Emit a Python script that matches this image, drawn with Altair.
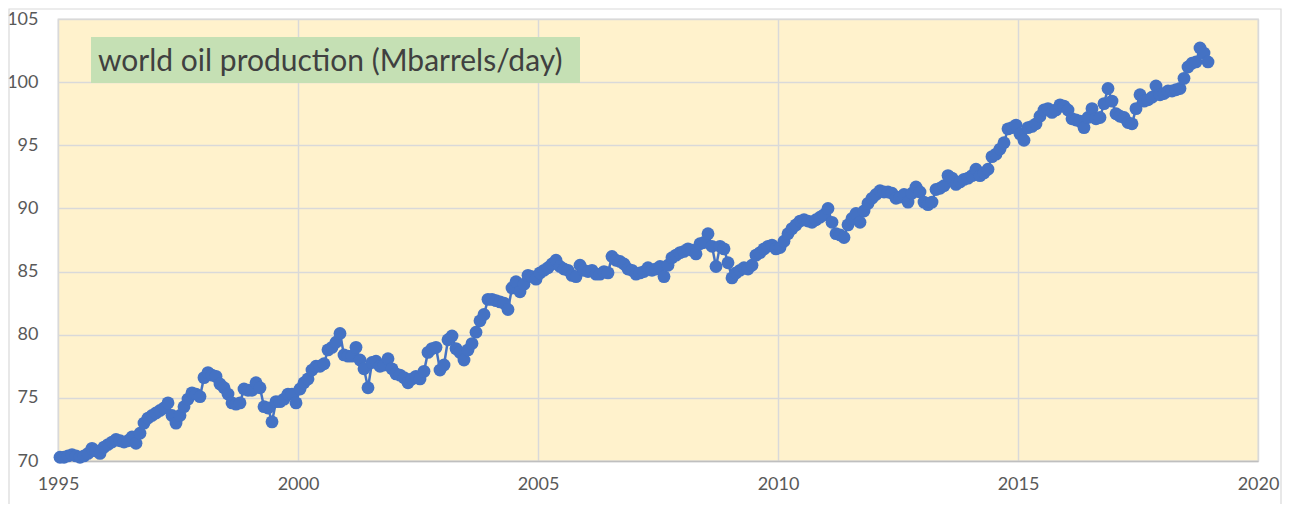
import altair as alt
import pandas as pd

# Monthly world oil production (Mbarrels/day), Jan 1995 .. Dec 2018
years = list(range(1995, 2019))
prod_1995 = [70.3, 70.3, 70.4, 70.5, 70.4, 70.3, 70.4, 70.6, 71.0, 70.8, 70.6, 71.1]
prod_1996 = [71.3, 71.5, 71.7, 71.6, 71.5, 71.6, 71.9, 71.4, 72.2, 73.0, 73.4, 73.6]
prod_1997 = [73.8, 74.0, 74.2, 74.6, 73.6, 73.0, 73.6, 74.3, 74.9, 75.4, 75.3, 75.1]
prod_1998 = [76.6, 77.0, 76.8, 76.7, 76.1, 75.8, 75.3, 74.6, 74.5, 74.6, 75.7, 75.6]
prod_1999 = [75.6, 76.2, 75.8, 74.3, 74.2, 73.1, 74.7, 74.7, 74.9, 75.3, 75.3, 74.6]
prod_2000 = [75.7, 76.2, 76.5, 77.2, 77.5, 77.5, 77.7, 78.8, 79.0, 79.4, 80.1, 78.4]
prod_2001 = [78.3, 78.3, 79.0, 78.0, 77.3, 75.8, 77.8, 77.9, 77.5, 77.6, 78.1, 77.3]
prod_2002 = [76.9, 76.8, 76.6, 76.2, 76.5, 76.7, 76.5, 77.1, 78.6, 78.9, 79.0, 77.2]
prod_2003 = [77.6, 79.6, 79.9, 78.9, 78.6, 78.0, 78.8, 79.3, 80.2, 81.1, 81.6, 82.8]
prod_2004 = [82.8, 82.7, 82.6, 82.5, 82.0, 83.7, 84.2, 83.4, 84.0, 84.7, 84.6, 84.4]
prod_2005 = [84.9, 85.1, 85.3, 85.6, 85.9, 85.4, 85.2, 85.1, 84.7, 84.6, 85.5, 85.1]
prod_2006 = [85.0, 85.1, 84.8, 84.8, 85.0, 84.9, 86.2, 85.9, 85.8, 85.6, 85.2, 85.1]
prod_2007 = [84.8, 84.9, 85.0, 85.3, 85.1, 85.2, 85.4, 84.6, 85.5, 86.1, 86.3, 86.5]
prod_2008 = [86.6, 86.8, 86.7, 86.4, 87.2, 87.3, 88.0, 87.0, 85.4, 87.0, 86.8, 85.7]
prod_2009 = [84.5, 84.9, 85.1, 85.3, 85.2, 85.5, 86.3, 86.5, 86.8, 87.0, 87.1, 86.8]
prod_2010 = [86.9, 87.4, 88.0, 88.4, 88.7, 89.0, 89.1, 89.0, 88.9, 89.1, 89.3, 89.5]
prod_2011 = [90.0, 88.9, 88.0, 87.9, 87.7, 88.7, 89.2, 89.6, 88.9, 89.8, 90.4, 90.8]
prod_2012 = [91.1, 91.4, 91.3, 91.3, 91.2, 90.8, 90.9, 91.1, 90.5, 91.2, 91.7, 91.3]
prod_2013 = [90.5, 90.3, 90.5, 91.5, 91.6, 91.8, 92.6, 92.4, 91.9, 92.1, 92.3, 92.4]
prod_2014 = [92.6, 93.1, 92.6, 92.8, 93.1, 94.1, 94.3, 94.7, 95.2, 96.3, 96.4, 96.6]
prod_2015 = [95.9, 95.4, 96.4, 96.5, 96.7, 97.3, 97.8, 97.9, 97.6, 97.8, 98.2, 98.1]
prod_2016 = [97.8, 97.1, 97.0, 96.9, 96.4, 97.2, 97.9, 97.1, 97.2, 98.3, 99.5, 98.5]
prod_2017 = [97.5, 97.3, 97.2, 96.8, 96.7, 97.9, 99.0, 98.5, 98.6, 98.8, 99.7, 99.0]
prod_2018 = [99.1, 99.3, 99.3, 99.4, 99.5, 100.3, 101.2, 101.5, 101.6, 102.7, 102.3, 101.6]

all_years = [prod_1995, prod_1996, prod_1997, prod_1998, prod_1999, prod_2000,
             prod_2001, prod_2002, prod_2003, prod_2004, prod_2005, prod_2006,
             prod_2007, prod_2008, prod_2009, prod_2010, prod_2011, prod_2012,
             prod_2013, prod_2014, prod_2015, prod_2016, prod_2017, prod_2018]

rows = []
for yr, vals in zip(years, all_years):
    for m, v in enumerate(vals):
        rows.append({"t": yr + (m + 0.5) / 12.0, "v": v})
df = pd.DataFrame(rows)

x_ticks = [1995, 2000, 2005, 2010, 2015, 2020]
y_ticks = [70, 75, 80, 85, 90, 95, 100, 105]
title_text = "world oil production (Mbarrels/day)"

FONT = "Lato"
BLUE = "#4472C4"

x_enc = alt.X("t:Q", scale=alt.Scale(domain=[1995, 2020], nice=False, zero=False),
              axis=alt.Axis(values=x_ticks, format="d", title=None, ticks=False,
                            grid=True, gridColor="#D9D9D9", gridWidth=1.5,
                            domainColor="#BFBFBF", domainWidth=1.5,
                            labelFont=FONT, labelFontSize=18, labelColor="#595959",
                            labelPadding=14, labelFlush=False))
y_enc = alt.Y("v:Q", scale=alt.Scale(domain=[70, 105], nice=False, zero=False),
              axis=alt.Axis(values=y_ticks, title=None, ticks=False,
                            grid=True, gridColor="#D9D9D9", gridWidth=1.5,
                            domain=False,
                            labelFont=FONT, labelFontSize=18, labelColor="#595959",
                            labelPadding=20))

base = alt.Chart(df)
line = base.mark_line(color=BLUE, strokeWidth=2.5).encode(x=x_enc, y=y_enc)
points = base.mark_circle(color=BLUE, size=165, opacity=1).encode(x="t:Q", y="v:Q")

box_df = pd.DataFrame({"label": [title_text]})
box = alt.Chart(box_df).mark_rect(color="#C5E0B4").encode(
    x=alt.value(33), x2=alt.value(522), y=alt.value(18), y2=alt.value(64))
txt = alt.Chart(box_df).mark_text(
    font=FONT, fontSize=30, color="#404040", align="left", baseline="alphabetic"
).encode(x=alt.value(40), y=alt.value(52), text="label:N")

border = alt.Chart(box_df).mark_rect(fillOpacity=0, stroke="#D9D9D9", strokeWidth=1.2).encode(
    x=alt.value(-49), x2=alt.value(1223), y=alt.value(-10), y2=alt.value(491))

chart = alt.layer(border, line, points, box, txt).properties(
    width=1200, height=442,
    padding={"left": 50, "top": 11, "right": 25, "bottom": 43},
    autosize=alt.AutoSizeParams(type="none"),
    background="white",
).configure_view(
    fill="#FFF2CC", stroke="#D9D9D9", strokeWidth=1.3
)

chart.save("out.html", embed_options={"renderer": "svg", "actions": False})
